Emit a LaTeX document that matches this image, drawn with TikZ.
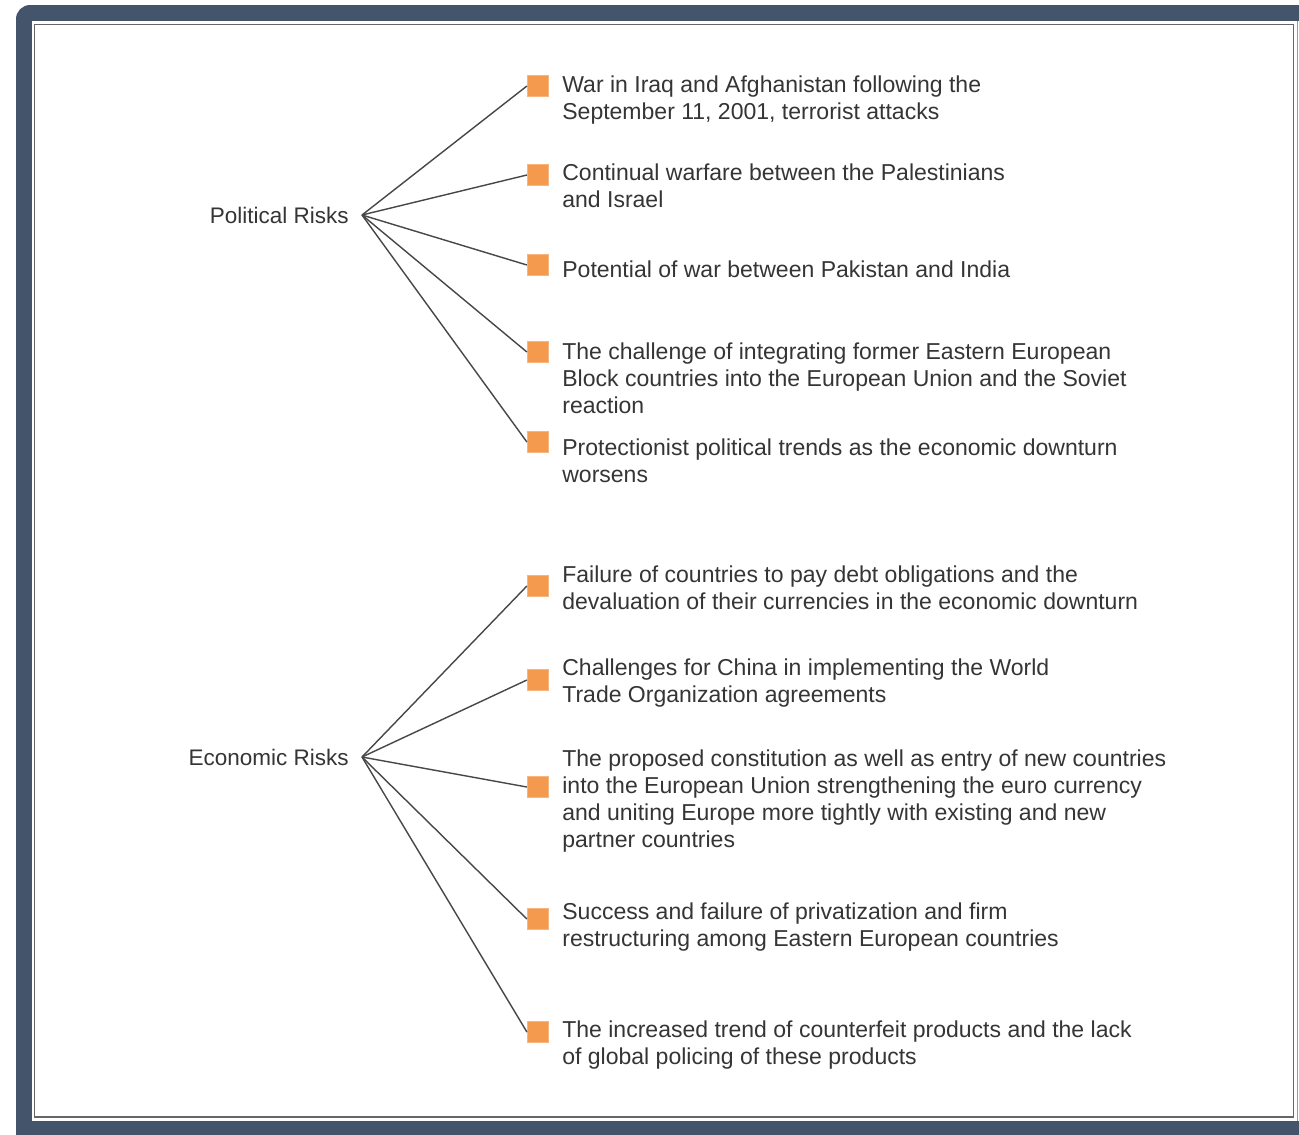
\documentclass[tikz,border=0pt]{standalone}
\usepackage{fontspec}
\setmainfont{Liberation Sans}
\usetikzlibrary{positioning}
\definecolor{framecol}{HTML}{44546A}
\definecolor{bulletfill}{HTML}{F39A4E}
\definecolor{bulletedge}{HTML}{F7B580}
\definecolor{textcol}{HTML}{353535}
\tikzstyle{bullet}=[rectangle,fill=bulletfill,draw=bulletedge,line width=0.7pt,minimum size=0.42cm,inner sep=0pt]
\tikzstyle{item}=[anchor=base west,align=left,inner sep=0pt,text=textcol,font=\fontsize{13.1}{15.3}\selectfont]
\tikzstyle{risk}=[text=textcol,inner sep=0pt,font=\fontsize{12.8}{15}\selectfont]
\tikzstyle{link}=[draw=black!72,line width=0.8pt]

\begin{document}
\begin{tikzpicture}[x=0.02cm,y=-0.02cm]
    \useasboundingbox (0,0) rectangle (1299,1134);
    % frame
    \fill[framecol,rounded corners=8pt] (16,5) rectangle (1340,1170);
    \fill[white] (32,21) rectangle (1299,1121);
    \draw[black!60,line width=1.1pt] (34.5,24.5) rectangle (1293.5,1117);
    \draw[black!40,line width=0.8pt] (1297.5,21) -- (1297.5,1121);

    \coordinate (polhub) at (362,215);
    \coordinate (ecohub) at (362,757);
    \node[risk,left=0.26cm of polhub] (pol) {Political Risks};
    \node[risk,left=0.26cm of ecohub] (eco) {Economic Risks};

    \node[bullet] (p1) at (538,86)  {};
    \node[bullet] (p2) at (538,175) {};
    \node[bullet] (p3) at (538,265) {};
    \node[bullet] (p4) at (538,352) {};
    \node[bullet] (p5) at (538,442) {};
    \node[bullet] (e1) at (538,586) {};
    \node[bullet] (e2) at (538,680) {};
    \node[bullet] (e3) at (538,787) {};
    \node[bullet] (e4) at (538,919) {};
    \node[bullet] (e5) at (538,1032) {};

    % texts sit on the baseline of their last line
    \node[item] (tp1) at (562,119) {War in Iraq and Afghanistan following the\\September 11, 2001, terrorist attacks};
    \node[item] (tp2) at (562,207) {Continual warfare between the Palestinians\\and Israel};
    \node[item] (tp3) at (562,277) {Potential of war between Pakistan and India};
    \node[item] (tp4) at (562,413) {The challenge of integrating former Eastern European\\Block countries into the European Union and the Soviet\\reaction};
    \node[item] (tp5) at (562,482) {Protectionist political trends as the economic downturn\\worsens};
    \node[item] (te1) at (562,609) {Failure of countries to pay debt obligations and the\\devaluation of their currencies in the economic downturn};
    \node[item] (te2) at (562,702) {Challenges for China in implementing the World\\Trade Organization agreements};
    \node[item] (te3) at (562,847) {The proposed constitution as well as entry of new countries\\into the European Union strengthening the euro currency\\and uniting Europe more tightly with existing and new\\partner countries};
    \node[item] (te4) at (562,946) {Success and failure of privatization and firm\\restructuring among Eastern European countries};
    \node[item] (te5) at (562,1064) {The increased trend of counterfeit products and the lack\\of global policing of these products};

    \foreach \b in {p1,p2,p3,p4,p5}
        \draw[link] (polhub) -- (\b.west);
    \foreach \b in {e1,e2,e3,e4,e5}
        \draw[link] (ecohub) -- (\b.west);
\end{tikzpicture}
\end{document}
